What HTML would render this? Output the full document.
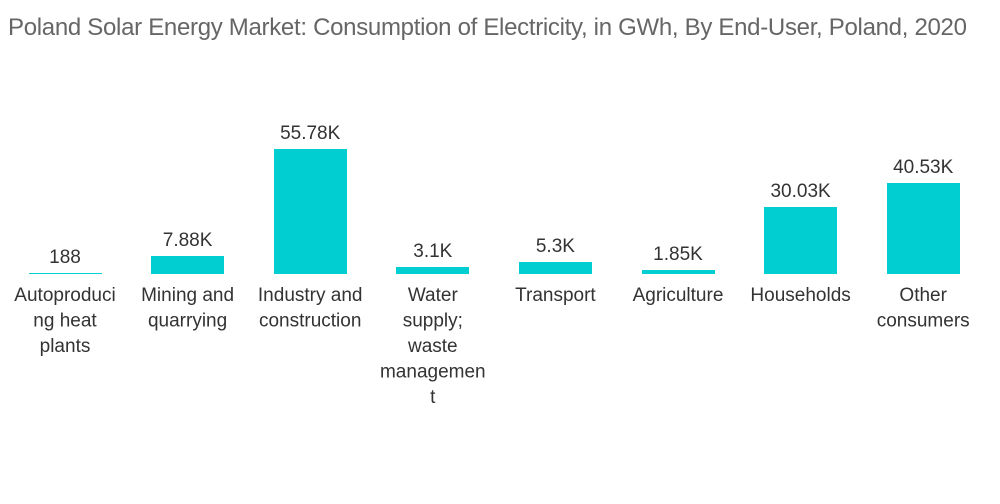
<!DOCTYPE html>
<html>
<head>
<meta charset="utf-8">
<style>
  html,body{margin:0;padding:0;background:#fff;}
  body{width:1000px;height:504px;overflow:hidden;position:relative;font-family:"Liberation Sans",sans-serif;}
  #title{position:absolute;left:8px;top:14px;font-size:24px;color:#666;white-space:nowrap;letter-spacing:-0.3px;}
  svg{position:absolute;left:0;top:0;}
  text{font-family:"Liberation Sans",sans-serif;}
</style>
</head>
<body>
<div id="title">Poland Solar Energy Market: Consumption of Electricity, in GWh, By End-User, Poland, 2020</div>
<svg id="chart" width="1000" height="504"></svg>
<script>
const categories = [
  ["Autoproduci","ng heat","plants"],
  ["Mining and","quarrying"],
  ["Industry and","construction"],
  ["Water","supply;","waste","managemen","t"],
  ["Transport"],
  ["Agriculture"],
  ["Households"],
  ["Other","consumers"]
];
const values = [188, 7880, 55780, 3100, 5300, 1850, 30030, 40530];
const valueLabels = ["188","7.88K","55.78K","3.1K","5.3K","1.85K","30.03K","40.53K"];

const svg = document.getElementById('chart');
const NS = 'http://www.w3.org/2000/svg';
const baseY = 274, maxH = 125, maxV = 55780;
const x0 = 65, step = 122.6, barW = 73;
function xPos(i){ return x0 + i*step; }
function yH(v){ return v/maxV*maxH; }

values.forEach((v,i)=>{
  const cx = xPos(i), h = Math.max(Math.round(yH(v)), 1);
  const r = document.createElementNS(NS,'rect');
  r.setAttribute('x', Math.round(cx-barW/2));
  r.setAttribute('y', baseY-h);
  r.setAttribute('width', barW);
  r.setAttribute('height', h);
  r.setAttribute('fill', '#00ced1');
  r.setAttribute('shape-rendering', 'crispEdges');
  
  
  svg.appendChild(r);

  const t = document.createElementNS(NS,'text');
  t.setAttribute('x', cx);
  t.setAttribute('y', baseY-h-10);
  t.setAttribute('text-anchor','middle');
  t.setAttribute('font-size','19');
  t.setAttribute('fill','#333');
  t.textContent = valueLabels[i];
  
  
  svg.appendChild(t);

  const g = document.createElementNS(NS,'text');
  g.setAttribute('text-anchor','middle');
  g.setAttribute('font-size','19');
  g.setAttribute('fill','#333');
  
  
  categories[i].forEach((line,j)=>{
    const s = document.createElementNS(NS,'tspan');
    s.setAttribute('x', cx);
    s.setAttribute('y', 301 + j*25.5);
    s.textContent = line;
    g.appendChild(s);
  });
  svg.appendChild(g);
});
</script>
</body>
</html>
